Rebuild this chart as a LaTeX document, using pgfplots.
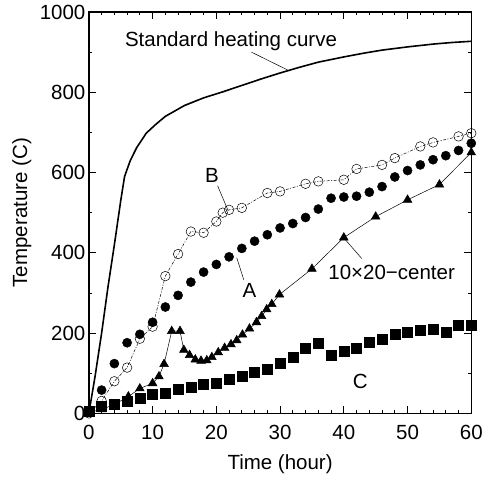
\documentclass[border=0pt]{standalone}
\usepackage{fontspec}
\setmainfont{Liberation Sans}
\usepackage{pgfplots}
\pgfplotsset{compat=1.18}
\begin{document}
\begin{tikzpicture}
\def\fs{\fontsize{20.6}{23}\selectfont}
\begin{axis}[
  name=ax,
  width=383bp, height=402bp, scale only axis,
  xmin=0, xmax=60, ymin=0, ymax=1000,
  xtick={0,10,...,60}, ytick={0,200,...,1000},
  minor x tick num=4, minor y tick num=1,
  tick align=inside, major tick length=7bp, minor tick length=3.5bp,
  axis line style={line width=1.5bp},
  every tick/.style={line width=0.9bp, black},
  tick label style={font=\fs},
  xticklabel style={yshift=-8bp},
  label style={font=\fs},
  xlabel={Time (hour)}, ylabel={Temperature (C)},
  xlabel style={at={(axis description cs:0.5,-0.127)}, anchor=center},
  ylabel style={at={(axis description cs:-0.175,0.5)}, anchor=center},
  /pgf/number format/assume math mode=true,
  /pgf/number format/set thousands separator={},
  clip=false,
]
% Standard heating curve
\addplot[black, line width=1.6bp] coordinates {
(0,0) (1,95) (2,200) (3,315) (4,420) (5,530) (5.6,590) (6.5,630) (7.5,662) (9,698)
(10.5,720) (12,740) (15,767) (18,786) (21,801) (24,817) (27,833) (30,848) (33,862)
(36,875) (40,888) (43,897) (46,905) (50,913) (54,920) (57,924) (60,927)};
% A: filled circles
\addplot[only marks, mark=*, mark size=4.6bp, black] coordinates {
(0,5) (2,58) (4,124) (6,176) (8,197) (10,227) (12,265) (14,294) (16,327) (18,352)
(20,371) (22,390) (24,411) (26,429) (28,445) (30,462) (32,473) (34,488) (36,509)
(38,536) (40,539) (42,541) (44,551) (46,565) (48,589) (50,605) (52,619) (54,632)
(56,642) (58,655) (60,673)};
% B: open circles
\addplot[black, line width=0.5bp, dash pattern=on 3bp off 1.5bp on 1bp off 1.5bp,
  mark=o, mark size=4.8bp, mark options={solid, line width=0.5bp}] coordinates {
(0,0) (2,31) (4,80) (6,114) (8,186) (10,216) (12,342) (14,397) (16,453) (18,450)
(20,478) (21,500) (22,507) (24,512) (28,549) (30,553) (34,572) (36,578) (40,582)
(42,609) (46,619) (48,636) (52,665) (54,675) (58,690) (60,698)};
% 10x20-center: filled triangles
\addplot[black, line width=0.5bp, mark=triangle*, mark size=5bp] coordinates {
(0,2) (2,10) (4,22) (6.2,42) (8,62) (10,75) (11,92) (11.8,123) (13,205) (14.3,205)
(14.9,158) (15.8,145) (16.7,134) (17.6,131) (18.5,132) (19.3,140) (20.3,152)
(21.3,163) (22.3,172) (23.2,182) (24.1,196) (25.2,211) (26.3,227) (27.1,242)
(27.9,259) (28.7,272) (29.9,296) (35,360) (40,438) (45,490) (50,532) (55,570) (60,650)};
% C: filled squares
\addplot[only marks, mark=square*, mark size=5bp, black] coordinates {
(0,5) (2,18) (4,22) (6,31) (8,39) (10,47) (12,51) (14,60) (16,66) (18,72) (20,76)
(22,85) (24,93) (26,103) (28,111) (30,124) (32,141) (34,163) (36,176) (38,146)
(40,156) (42,163) (44,177) (46,186) (48,197) (50,202) (52,206) (54,209) (56,202)
(58,219) (60,219)};
% annotations
\node[font=\fs] at (axis cs:22.3,928) {Standard heating curve};
\draw[line width=0.5bp] (axis cs:25.5,900) -- (axis cs:31.5,853);
\node[font=\fs] at (axis cs:19.3,592) {B};
\draw[line width=0.5bp] (axis cs:20.2,567) -- (axis cs:21.8,507);
\node[font=\fs] at (axis cs:25.2,306) {A};
\draw[line width=0.5bp] (axis cs:23.2,388) -- (axis cs:24.3,333);
\node[font=\fs] at (axis cs:47.5,351) {10×20−center};
\draw[line width=0.5bp] (axis cs:40,437) -- (axis cs:42.8,386);
\node[font=\fs] at (axis cs:42.6,80) {C};
\end{axis}
\path ([shift={(-89bp,-66bp)}]ax.south west) rectangle ([shift={(14bp,12bp)}]ax.north east);
\end{tikzpicture}
\end{document}
